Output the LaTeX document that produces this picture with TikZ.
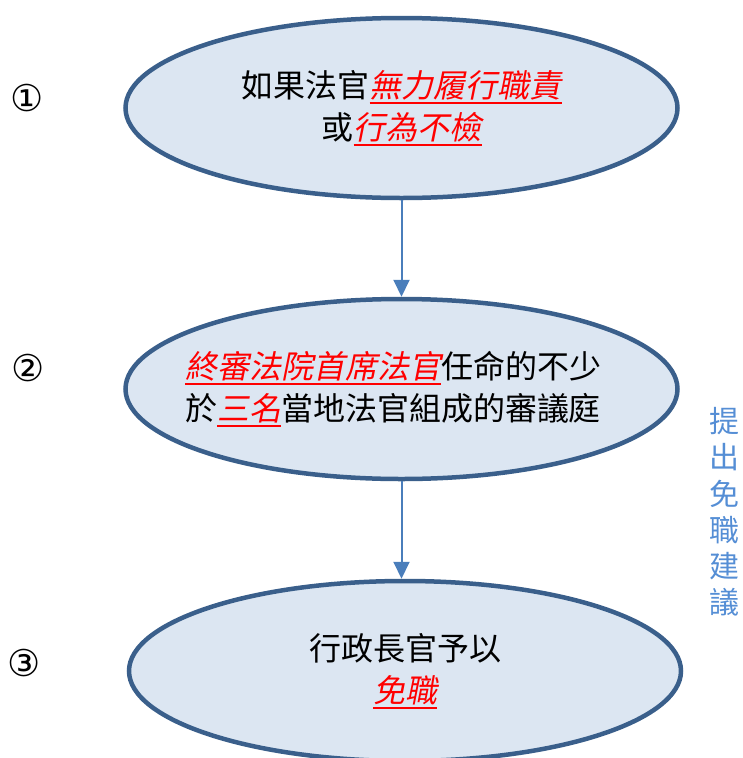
\documentclass[tikz,border=0pt]{standalone}
\usepackage{fontspec}
\setmainfont{Noto Sans CJK TC}
\newfontfamily\cjkit[FakeSlant=0.2]{Noto Sans CJK TC}
\newfontfamily\symf{DejaVu Sans}
\usetikzlibrary{shapes.geometric,arrows.meta}
\definecolor{efill}{HTML}{DCE6F2}
\definecolor{edraw}{HTML}{3A5F8B}
\definecolor{arr}{HTML}{4A7EBB}
\definecolor{lbl}{HTML}{558ED5}
\newcommand\redem[1]{{\color{red}\cjkit\setbox0\hbox{#1}\rlap{\rule[-6pt]{\wd0}{2pt}}\box0}}
\tikzset{
  stage/.style={ellipse, draw=edraw, fill=efill, line width=4.5pt, inner sep=0pt,
    minimum width=552pt, minimum height=180pt},
  stagetext/.style={align=center, inner sep=0pt, font=\fontsize{32}{42}\selectfont},
  conn/.style={draw=arr, line width=2pt, -{Triangle[width=16pt,length=17pt]}},
  numlbl/.style={font=\symf\fontsize{37}{37}\selectfont, inner sep=0pt},
  sidelbl/.style={text=lbl, align=center, inner sep=0pt, font=\fontsize{30}{36.2}\selectfont}
}
\begin{document}
\begin{tikzpicture}[x=1pt,y=-1pt]
\useasboundingbox (0,0) rectangle (742,758);
\node[stage] (s1) at (401.5,108) {};
\node[stage] (s2) at (401.5,389) {};
\node[stage] (s3) at (405,671) {};
\node[stagetext] (t1) at (s1.center) {如果法官\redem{無力履行職責}\\或\redem{行為不檢}};
\node[stagetext] (t2) at (393,389) {\redem{終審法院首席法官}任命的不少\\於\redem{三名}當地法官組成的審議庭};
\node[stagetext] (t3) at (s3.center) {行政長官予以\\\redem{免職}};
\draw[conn] (s1.south) -- (s2.north);
\draw[conn] (s2.south) -- (s2.south |- s3.north);
\node[numlbl] (n1) at (27,98) {①};
\node[numlbl] (n2) at (28,368) {②};
\node[numlbl] (n3) at (24,663) {③};
\node[sidelbl] (side) at (724,512) {提\\出\\免\\職\\建\\議};
\end{tikzpicture}
\end{document}
